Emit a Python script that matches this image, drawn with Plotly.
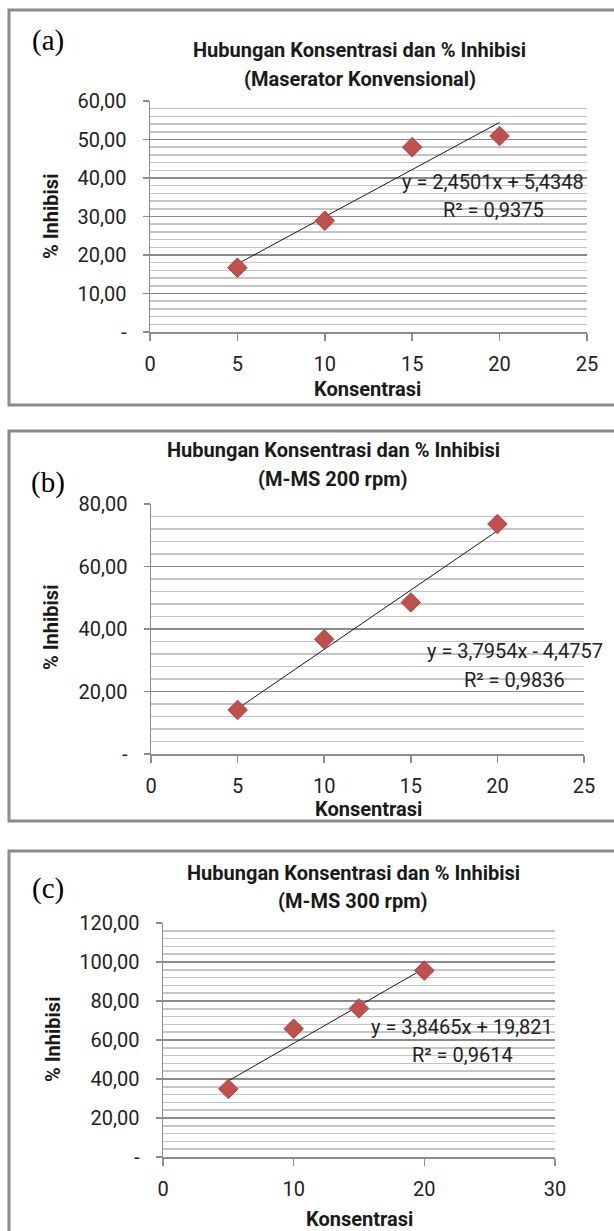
import plotly.graph_objects as go

W, H = 614, 1231

# ---------------- data ----------------
konsentrasi = [5, 10, 15, 20]
inhibisi_a = [16.7, 28.9, 48.0, 50.9]
inhibisi_b = [14.1, 36.7, 48.5, 73.6]
inhibisi_c = [34.9, 65.8, 76.2, 95.6]

slope_a, intercept_a, r2_a = 2.4501, 5.4348, 0.9375
slope_b, intercept_b, r2_b = 3.7954, -4.4757, 0.9836
slope_c, intercept_c, r2_c = 3.8465, 19.821, 0.9614

titles_line2 = ["(Maserator Konvensional)", "(M-MS 200 rpm)", "(M-MS 300 rpm)"]
title_line1 = "Hubungan Konsentrasi dan % Inhibisi"
panel_labels = ["(a)", "(b)", "(c)"]
eq_texts = ["y = 2,4501x + 5,4348", "y = 3,7954x - 4,4757", "y = 3,8465x + 19,821"]
r2_texts = ["R² = 0,9375", "R² = 0,9836", "R² = 0,9614"]

xticks_a = [0, 5, 10, 15, 20, 25]
xticks_c = [0, 10, 20, 30]
yticks_a = [0, 10, 20, 30, 40, 50, 60]
yticklabels_a = ["-", "10,00", "20,00", "30,00", "40,00", "50,00", "60,00"]
yticks_b = [0, 20, 40, 60, 80]
yticklabels_b = ["-", "20,00", "40,00", "60,00", "80,00"]
yticks_c = [0, 20, 40, 60, 80, 100, 120]
yticklabels_c = ["-", "20,00", "40,00", "60,00", "80,00", "100,00", "120,00"]

FONT = "Liberation Sans Narrow, Roboto, Open Sans, sans-serif"
RED = "#C0504D"


def px(x):
    return x / W


def py(y):
    return 1 - y / H


panels = [
    dict(y=inhibisi_a, m=slope_a, b=intercept_a, xr=[0, 25], yr=[0, 60], xt=xticks_a,
         yt=yticks_a, ytl=yticklabels_a, minor=2,
         xd=[150, 587], yd=[332, 101],
         box=[10, 405], t1=(359, 50), t2=(360, 79), lab=(48, 41),
         ytitle=(51, 217), xtitle=(367, 389), eq=(493, 182), r2=(493, 210)),
    dict(y=inhibisi_b, m=slope_b, b=intercept_b, xr=[0, 25], yr=[0, 80], xt=xticks_a,
         yt=yticks_b, ytl=yticklabels_b, minor=4,
         xd=[151, 584], yd=[754, 504],
         box=[431, 821], t1=(333, 450), t2=(333, 479), lab=(48, 482),
         ytitle=(51, 628), xtitle=(368, 809), eq=(515, 651), r2=(514, 680)),
    dict(y=inhibisi_c, m=slope_c, b=intercept_c, xr=[0, 30], yr=[0, 120], xt=xticks_c,
         yt=yticks_c, ytl=yticklabels_c, minor=4,
         xd=[163, 555], yd=[1157, 923],
         box=[851, 1260], t1=(353, 873), t2=(353, 901), lab=(48, 888),
         ytitle=(53, 1040), xtitle=(359, 1219), eq=(462, 1027), r2=(462, 1055)),
]

fig = go.Figure()
annotations = []
shapes = []

for i, p in enumerate(panels):
    n = "" if i == 0 else str(i + 1)
    xa, ya = "x" + n, "y" + n
    # trendline
    xs = [min(konsentrasi), max(konsentrasi)]
    ys = [p["m"] * x + p["b"] for x in xs]
    fig.add_trace(go.Scatter(x=xs, y=ys, mode="lines", line=dict(color="#1a1a1a", width=1),
                             xaxis=xa, yaxis=ya, showlegend=False, hoverinfo="skip"))
    fig.add_trace(go.Scatter(x=konsentrasi, y=p["y"], mode="markers",
                             marker=dict(symbol="diamond", size=15, color=RED,
                                         line=dict(color="#b0413e", width=1)),
                             xaxis=xa, yaxis=ya, showlegend=False))
    fig.layout["xaxis" + n] = dict(
        domain=[px(p["xd"][0]), px(p["xd"][1])], range=p["xr"], anchor=ya,
        automargin=False,
        tickmode="array", tickvals=p["xt"], ticktext=[str(v) for v in p["xt"]],
        showgrid=False, zeroline=False, showline=True, linecolor="#8c8c8c", linewidth=1.5,
        ticks="outside", ticklen=7, tickcolor="#8c8c8c", tickwidth=1.5,
        ticklabelstandoff=6,
        tickfont=dict(family=FONT, size=20, color="#222"), fixedrange=True)
    fig.layout["yaxis" + n] = dict(
        domain=[py(p["yd"][0]), py(p["yd"][1])], range=p["yr"], anchor=xa,
        automargin=False,
        tickmode="array", tickvals=p["yt"], ticktext=p["ytl"],
        showgrid=True, gridcolor="#8a8a8a", gridwidth=1.5,
        minor=dict(dtick=p["minor"], tick0=0, showgrid=True, gridcolor="#c4c4c4", gridwidth=1.5),
        zeroline=False, showline=True, linecolor="#8c8c8c", linewidth=1.5,
        ticks="outside", ticklen=6, tickcolor="#8c8c8c", tickwidth=1.5,
        ticklabelstandoff=12,
        tickfont=dict(family=FONT, size=20, color="#222"), fixedrange=True)

    # box
    shapes.append(dict(type="rect", xref="paper", yref="paper",
                       x0=px(9), x1=px(640), y0=py(p["box"][1]), y1=py(p["box"][0]),
                       line=dict(color="#8a8a8a", width=3), fillcolor="rgba(0,0,0,0)", layer="below"))

    def ann(text, pos, size, bold=False, family=FONT, angle=0, color="#1a1a1a"):
        annotations.append(dict(text=("<b>%s</b>" % text) if bold else text,
                                x=px(pos[0]), y=py(pos[1]), xref="paper", yref="paper",
                                xanchor="center", yanchor="middle", showarrow=False,
                                textangle=angle, font=dict(family=family, size=size, color=color)))

    ann(title_line1, p["t1"], 20, bold=True)
    ann(titles_line2[i], p["t2"], 20, bold=True)
    ann(panel_labels[i], p["lab"], 29, family="Liberation Serif, DejaVu Serif, serif", color="#000")
    ann("% Inhibisi", p["ytitle"], 20, bold=True, angle=-90)
    ann("Konsentrasi", p["xtitle"], 20, bold=True)
    ann(eq_texts[i], p["eq"], 20, color="#222")
    ann(r2_texts[i], p["r2"], 20, color="#222")

fig.update_layout(width=W, height=H, margin=dict(l=0, r=0, t=0, b=0, pad=0, autoexpand=False),
                  paper_bgcolor="white", plot_bgcolor="white",
                  annotations=annotations, shapes=shapes, showlegend=False)

fig.write_html("out.html", config={"displayModeBar": False, "staticPlot": True},
               post_script="document.body.style.margin='0';document.body.style.overflow='hidden';"
                           "document.documentElement.style.overflow='hidden';")
